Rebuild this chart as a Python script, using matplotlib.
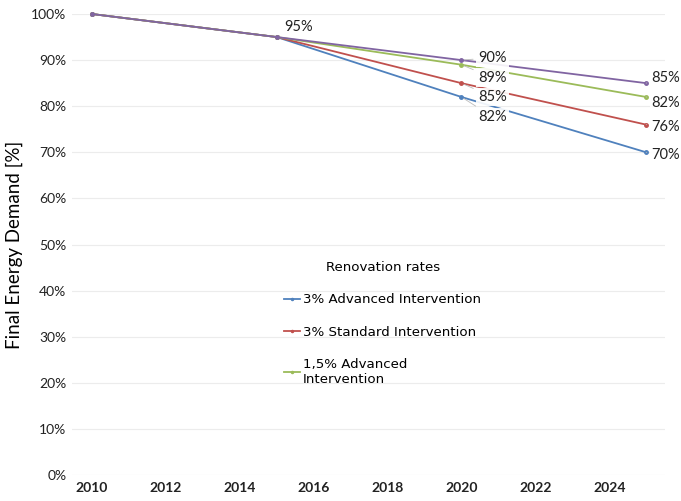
import numpy as np
import matplotlib
matplotlib.use("Agg")
import matplotlib.pyplot as plt
from matplotlib.ticker import PercentFormatter

years = [2010, 2015, 2020, 2025]
adv_3 = [1.00, 0.95, 0.82, 0.70]
std_3 = [1.00, 0.95, 0.85, 0.76]
adv_15 = [1.00, 0.95, 0.89, 0.82]
std_15 = [1.00, 0.95, 0.90, 0.85]

series = [
    ("3% Advanced Intervention", adv_3, "#4f81bd"),
    ("3% Standard Intervention", std_3, "#c0504d"),
    ("1,5% Advanced\nIntervention", adv_15, "#9bbb59"),
    (None, std_15, "#8064a2"),
]

fig = plt.figure(figsize=(6.81, 5.01), dpi=100)
ax = fig.add_axes([72 / 681, 26 / 501, 593 / 681, 461 / 501])

lines = []
for name, vals, col in series:
    ln, = ax.plot(years, vals, color=col, lw=1.3, marker="o", ms=2.5,
                  clip_on=False, zorder=3)
    if name:
        ln.set_label(name)
        lines.append(ln)

ax.set_xlim(2009.46, 2025.51)
ax.set_ylim(0, 1.0)
ax.set_xticks(np.arange(2010, 2025, 2))
ax.set_yticks(np.arange(0, 1.01, 0.1))
ax.yaxis.set_major_formatter(PercentFormatter(1.0, decimals=0))
ax.grid(axis="y", color="#ececec", lw=0.8)
ax.set_axisbelow(True)
for s in ax.spines.values():
    s.set_visible(False)
ax.tick_params(length=0, labelsize=10, colors="#222222", labelfontfamily="Lato")
ax.tick_params(axis="y", pad=4)
ax.tick_params(axis="x", pad=5)
for t in ax.get_xticklabels():
    t.set_fontweight("bold")
ax.set_ylabel("Final Energy Demand [%]", fontsize=13.5, family="Lato", labelpad=6)

# value labels with leader lines
box = dict(boxstyle="square,pad=0.15", fc="white", ec="none", alpha=0.9)
lead = dict(arrowstyle="-", color="#bbbbbb", lw=0.6)


def tag(x, y, tx, ty):
    ax.annotate(f"{y * 100:.0f}%", xy=(x, y), xytext=(tx, ty),
                textcoords="data", fontsize=10.5, family="Lato",
                color="#222222", va="center", ha="left", bbox=box,
                arrowprops=lead, zorder=4)


tag(years[1], std_15[1], 2015.2, 0.972)
tag(years[2], std_15[2], 2020.45, 0.905)
tag(years[2], adv_15[2], 2020.45, 0.862)
tag(years[2], std_3[2], 2020.45, 0.82)
tag(years[2], adv_3[2], 2020.45, 0.777)
tag(years[3], std_15[3], 2025.15, 0.862)
tag(years[3], adv_15[3], 2025.15, 0.808)
tag(years[3], std_3[3], 2025.15, 0.755)
tag(years[3], adv_3[3], 2025.15, 0.695)

leg = ax.legend(handles=lines, title="Renovation rates", frameon=False,
                loc="upper left", bbox_to_anchor=(0.338, 0.49),
                fontsize=9.6, title_fontsize=9.6, handlelength=1.2,
                handletextpad=0.2, labelspacing=1.45, markerscale=0.6)

fig.savefig("out.png", dpi=100)
